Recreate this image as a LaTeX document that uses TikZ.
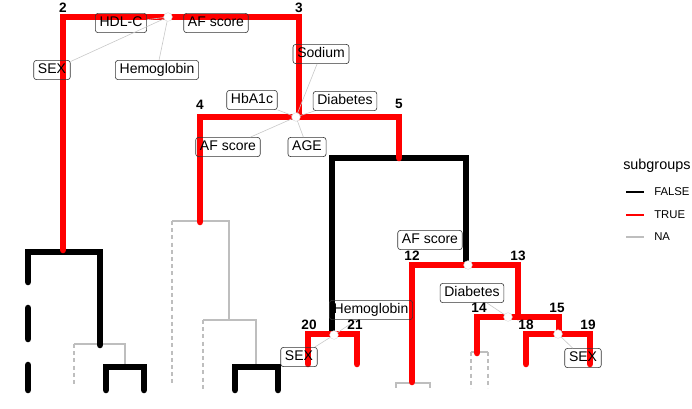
\documentclass[tikz,border=0pt]{standalone}
\usepackage{fontspec}
\setmainfont{Liberation Sans}
\definecolor{nagray}{RGB}{190,190,190}
\definecolor{conngray}{RGB}{200,200,200}
\tikzset{
  tr/.style={draw=red, line width=4.9pt, line cap=round, line join=miter},
  fa/.style={draw=black, line width=4.9pt, line cap=round, line join=miter},
  na/.style={draw=nagray, line width=0.9pt},
  nadash/.style={na, dash pattern=on 3pt off 2.4pt},
  lab/.style={draw=black!80, rounded corners=2pt, line width=0.45pt, inner xsep=3.2pt, inner ysep=0pt,
     minimum height=14.4pt, text height=7.8pt, text depth=2pt, font=\fontsize{10.5}{12}\selectfont},
  num/.style={font=\fontsize{10.2}{12}\selectfont\bfseries, inner sep=0pt},
  splitpt/.style={circle, fill=white, draw=nagray!60, line width=0.3pt, minimum size=6.5pt, inner sep=0pt},
  conn/.style={draw=conngray, line width=0.45pt},
  legline/.style={line width=0.8pt},
  legtxt/.style={font=\fontsize{8.5}{10}\selectfont, anchor=west, inner sep=0pt}
}
\begin{document}
\begin{tikzpicture}[x=0.75pt, y=-0.75pt]
\useasboundingbox (0,0) rectangle (692,408);
% ---- key coordinates
\coordinate (n2) at (63,17);
\coordinate (n3) at (299,17);
\coordinate (n4) at (200,117);
\coordinate (n5) at (399,117);
\coordinate (n12) at (412,265);
\coordinate (n13) at (518,265);
\coordinate (n14) at (477,317);
\coordinate (n15) at (559,317);
\coordinate (n18) at (526,334);
\coordinate (n19) at (590,334);
\coordinate (n20) at (308,334);
\coordinate (n21) at (357,334);
\coordinate (s1) at (168,17);
\coordinate (s2) at (296,117);
\coordinate (s3) at (468,265);
\coordinate (s4) at (508,317);
\coordinate (s5) at (558,334);
\coordinate (s6) at (334,335);

% ---- NA (gray) branches
\draw[na] (74,344) -- (125,344) -- (125,366);
\draw[nadash] (74,344) -- (74,385);
\draw[na] (172,221) -- (229,221) -- (229,320);
\draw[nadash] (172,221) -- (172,385);
\draw[na] (203,320) -- (256,320) -- (256,367);
\draw[nadash] (203,320) -- (203,390);
\draw[na] (396,388) -- (396,383) -- (430,383) -- (430,388);
\draw[na] (471,352) -- (488,352);
\draw[nadash] (471,352) -- (471,388);
\draw[nadash] (488,352) -- (488,388);

% ---- FALSE (black) branches
\draw[fa] (28,282) -- (28,252) -- (100,252) -- (100,345);
\draw[fa] (28,308) -- (28,339);
\draw[fa] (28,365) -- (28,390);
\draw[fa] (106,390) -- (106,367) -- (144,367) -- (144,390);
\draw[fa] (235,390) -- (235,367) -- (278,367) -- (278,390);
\draw[fa] (332,333) -- (332,158) -- (466,158) -- (466,265);

% ---- TRUE (red) branches
\draw[tr] (63,250) -- (n2) -- (n3) -- (299,117);
\draw[tr] (200,222) -- (n4) -- (n5) -- (399,158);
\draw[tr] (412,382) -- (n12) -- (n13) -- (518,317);
\draw[tr] (477,353) -- (n14) -- (n15) -- (559,334);
\draw[tr] (526,364) -- (n18) -- (n19) -- (590,364);
\draw[tr] (308,364) -- (n20) -- (n21) -- (357,364);

% ---- labels
\node[lab] (l1) at (121,23) {HDL-C};
\node[lab] (l2) at (216,23) {AF score};
\node[lab] (l3) at (52,70) {SEX};
\node[lab] (l4) at (157,70) {Hemoglobin};
\node[lab] (l5) at (321,54) {Sodium};
\node[lab] (l6) at (252,100) {HbA1c};
\node[lab] (l7) at (345,101) {Diabetes};
\node[lab] (l8) at (228,147) {AF score};
\node[lab] (l9) at (307,147) {AGE};
\node[lab] (l10) at (430,240) {AF score};
\node[lab] (l11) at (371,310) {Hemoglobin};
\node[lab] (l12) at (299,357) {SEX};
\node[lab] (l13) at (472,293) {Diabetes};
\node[lab] (l14) at (583,358) {SEX};

% ---- connectors
\draw[conn] (s1) -- (l1);
\draw[conn] (s1) -- (l3);
\draw[conn] (s1) -- (l4);
\draw[conn] (s2) -- (l5);
\draw[conn] (s2) -- (l6);
\draw[conn] (s2) -- (l7);
\draw[conn] (s2) -- (l8);
\draw[conn] (s2) -- (l9);
\draw[conn] (s6) -- (l11);
\draw[conn] (s6) -- (l12);
\draw[conn] (s4) -- (l13);
\draw[conn] (s5) -- (l14);

% ---- split points
\foreach \s in {s1,s2,s3,s4,s5,s6} \node[splitpt] at (\s) {};

% ---- node numbers
\node[num] (t2) at (63,8) {2};
\node[num] (t3) at (299,8) {3};
\node[num] (t4) at (200,105) {4};
\node[num] (t5) at (399,104) {5};
\node[num] (t12) at (412,256) {12};
\node[num] (t13) at (518,256) {13};
\node[num] (t14) at (479,308) {14};
\node[num] (t15) at (557,308) {15};
\node[num] (t18) at (526,325) {18};
\node[num] (t19) at (588,325) {19};
\node[num] (t20) at (309,325) {20};
\node[num] (t21) at (355,325) {21};

% ---- legend
\node[anchor=west, inner sep=0pt, font=\fontsize{10.8}{12}\selectfont] (lt) at (623,166) {subgroups};
\coordinate (f1) at (626,192); \coordinate (f2) at (644,192);
\coordinate (g1) at (626,215); \coordinate (g2) at (644,215);
\coordinate (h1) at (626,237); \coordinate (h2) at (644,237);
\draw[legline, draw=black] (f1) -- (f2);
\draw[legline, draw=red] (g1) -- (g2);
\draw[legline, draw=nagray] (h1) -- (h2);
\node[legtxt] (lf) at (654,192) {FALSE};
\node[legtxt] (lg) at (654,215) {TRUE};
\node[legtxt] (lh) at (654,237) {NA};
\end{tikzpicture}
\end{document}
